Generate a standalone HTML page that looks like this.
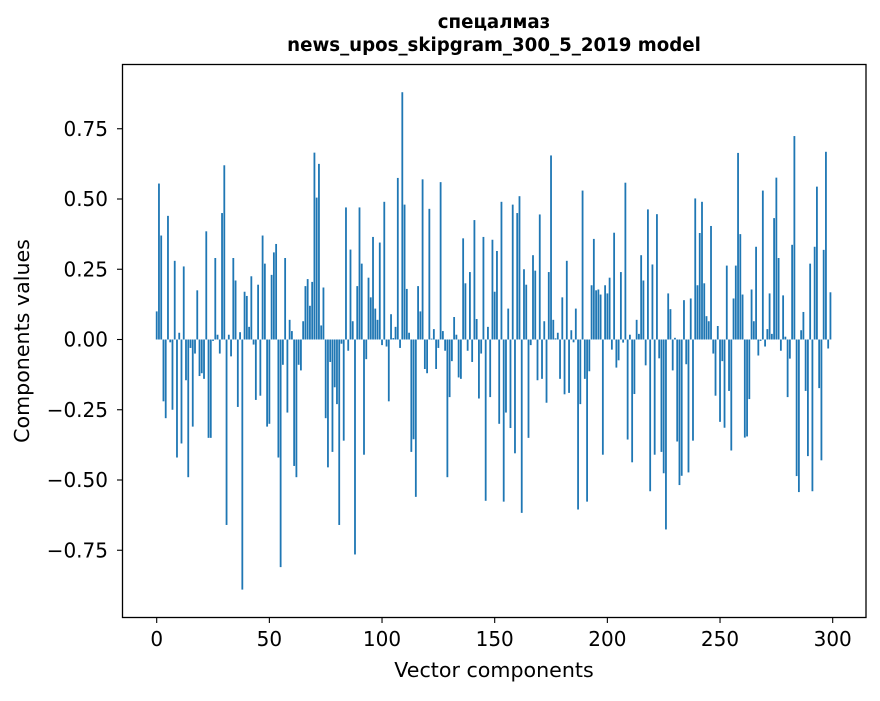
<!DOCTYPE html>
<html><head><meta charset="utf-8">
<style>
html,body{margin:0;padding:0;background:#fff;}
svg text{font-family:"DejaVu Sans","Liberation Sans",sans-serif;fill:#000;}
</style></head>
<body>
<svg id="chart" width="880" height="696" viewBox="0 0 880 696" xmlns="http://www.w3.org/2000/svg">
<rect x="0" y="0" width="880" height="696" fill="#fff"/>
<text x="494" y="28" text-anchor="middle" font-size="18.2" font-weight="bold">спецалмаз</text>
<text x="494" y="51" text-anchor="middle" font-size="18.2" font-weight="bold">news_upos_skipgram_300_5_2019 model</text>
<g id="bars"></g>
<g id="axes"></g>
<rect x="122.5" y="64.5" width="743.5" height="553" fill="none" stroke="#000" stroke-width="1.3"/>
<text x="494" y="677" text-anchor="middle" font-size="20.6">Vector components</text>
<text transform="translate(29,341) rotate(-90)" text-anchor="middle" font-size="20.6">Components values</text>
</svg>
<script>
const values = [
0.10,0.555,0.37,-0.22,-0.28,0.44,-0.01,-0.25,0.28,-0.42,
0.024,-0.37,0.26,-0.145,-0.49,-0.03,-0.31,-0.05,0.175,-0.13,
-0.12,-0.14,0.385,-0.35,-0.35,-0.005,0.29,0.017,-0.05,0.45,
0.62,-0.66,0.017,-0.06,0.29,0.21,-0.24,0.026,-0.89,0.17,
0.155,0.045,0.225,-0.018,-0.215,0.195,-0.2,0.37,0.27,-0.31,
-0.30,0.23,0.31,0.34,-0.42,-0.81,-0.09,0.29,-0.26,0.07,
0.03,-0.45,-0.49,-0.09,-0.11,0.065,0.19,0.215,0.12,0.205,
0.665,0.505,0.625,0.05,0.185,-0.28,-0.455,-0.08,-0.40,-0.17,
-0.23,-0.66,-0.015,-0.36,0.47,-0.04,0.32,0.065,-0.765,0.19,
0.47,0.27,-0.41,-0.07,0.22,0.15,0.365,0.11,0.07,0.345,
-0.02,0.49,-0.025,-0.22,0.09,0.005,0.045,0.575,-0.03,0.88,
0.48,0.18,0.024,-0.40,-0.355,-0.56,0.19,0.10,0.57,-0.105,
-0.12,0.465,0.003,0.037,-0.105,-0.03,0.56,0.03,-0.04,-0.49,
-0.205,-0.077,0.08,0.017,-0.135,-0.14,0.36,0.2,-0.04,0.24,
-0.08,0.425,0.073,-0.21,-0.05,0.365,-0.574,0.045,-0.205,0.355,
0.17,0.315,-0.30,0.49,-0.577,-0.26,0.11,-0.315,0.48,-0.405,
0.45,0.51,-0.617,0.25,0.195,-0.35,-0.02,0.30,0.245,-0.145,
0.445,-0.14,0.065,-0.225,0.24,0.655,0.07,0.004,0.024,-0.14,
0.15,-0.195,0.28,-0.19,0.033,-0.01,0.11,-0.605,-0.23,0.53,
-0.14,-0.577,-0.113,0.193,0.358,0.175,0.178,0.16,-0.41,0.193,
0.164,0.22,-0.036,0.38,-0.10,-0.074,0.24,-0.011,0.558,-0.356,
0.017,-0.437,-0.194,0.07,0.02,0.30,0.21,-0.092,0.463,-0.54,
0.267,-0.41,0.446,-0.067,-0.40,-0.476,-0.676,0.164,0.108,-0.11,
0.006,-0.363,-0.518,-0.485,0.14,-0.088,-0.473,0.146,-0.36,0.502,
0.193,0.379,0.49,0.2,0.083,0.065,0.404,-0.05,-0.2,0.048,
-0.293,-0.077,-0.314,0.263,-0.183,-0.395,0.146,0.263,0.664,0.375,
0.16,-0.349,-0.345,-0.212,0.178,0.065,0.33,-0.057,-0.005,0.53,
-0.025,0.037,0.164,0.02,0.432,0.576,0.29,-0.04,0.157,0.01,
-0.205,-0.068,0.337,0.724,-0.486,-0.543,0.033,0.098,-0.183,-0.415,
0.27,-0.54,0.33,0.544,-0.173,-0.43,0.319,0.668,-0.032,0.168
];
const xTicks = [0,50,100,150,200,250,300];
const yTicks = [-0.75,-0.5,-0.25,0,0.25,0.5,0.75];
const yTickLabels = ["\u22120.75","\u22120.50","\u22120.25","0.00","0.25","0.50","0.75"];

const NS="http://www.w3.org/2000/svg";
const X0=156.7, XS=2.2533;
const Y0=339.5, YS=281;
function xPos(i){return X0+i*XS;}
function yPos(v){return Y0-v*YS;}

const bars=document.getElementById('bars');
values.forEach((v,i)=>{
  const r=document.createElementNS(NS,'rect');
  const w=0.8*XS;
  const y1=yPos(Math.max(v,0)), y2=yPos(Math.min(v,0));
  r.setAttribute('x',xPos(i)-w/2);
  r.setAttribute('y',y1);
  r.setAttribute('width',w);
  r.setAttribute('height',Math.max(y2-y1,0.01));
  r.setAttribute('fill','#1f77b4');
  
  
  bars.appendChild(r);
});

const axes=document.getElementById('axes');
xTicks.forEach(t=>{
  const x=xPos(t);
  const l=document.createElementNS(NS,'line');
  l.setAttribute('x1',x);l.setAttribute('x2',x);
  l.setAttribute('y1',617.5);l.setAttribute('y2',623);
  l.setAttribute('stroke','#000');l.setAttribute('stroke-width','1.1');
  
  
  axes.appendChild(l);
  const tx=document.createElementNS(NS,'text');
  tx.setAttribute('x',x);tx.setAttribute('y',646);
  tx.setAttribute('text-anchor','middle');tx.setAttribute('font-size','20');
  tx.textContent=String(t);
  
  
  axes.appendChild(tx);
});
yTicks.forEach((t,k)=>{
  const y=yPos(t);
  const l=document.createElementNS(NS,'line');
  l.setAttribute('x1',117);l.setAttribute('x2',122.5);
  l.setAttribute('y1',y);l.setAttribute('y2',y);
  l.setAttribute('stroke','#000');l.setAttribute('stroke-width','1.1');
  
  
  axes.appendChild(l);
  const tx=document.createElementNS(NS,'text');
  tx.setAttribute('x',108);tx.setAttribute('y',y+7);
  tx.setAttribute('text-anchor','end');tx.setAttribute('font-size','20');
  tx.textContent=yTickLabels[k];
  
  
  axes.appendChild(tx);
});
</script>
</body></html>
